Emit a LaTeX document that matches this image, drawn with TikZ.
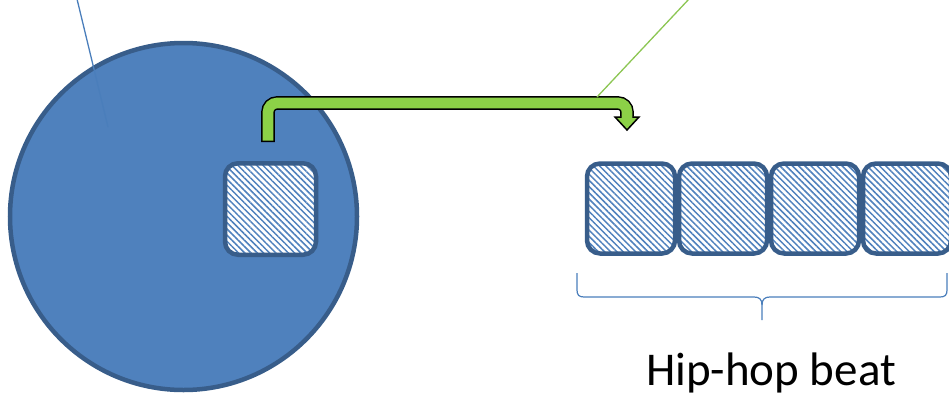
\documentclass[tikz,border=0pt]{standalone}
\usepackage{fontspec}
\setmainfont{Carlito}
\usetikzlibrary{patterns.meta}
\definecolor{fillblue}{HTML}{4F81BD}
\definecolor{edgeblue}{HTML}{385D8A}
\definecolor{lineblue}{HTML}{4A7EBB}
\definecolor{arrowgreen}{HTML}{8CD147}
\definecolor{linegreen}{HTML}{8CC653}
\tikzset{
  disc/.style={circle, draw=edgeblue, fill=fillblue, line width=4.5pt, inner sep=0pt, minimum size=347pt},
  hatchbox/.style={rectangle, draw=edgeblue, line width=4.5pt, rounded corners=13pt, inner sep=0pt,
    minimum width=88pt, minimum height=90pt, preaction={fill=white},
    pattern={Lines[angle=-45,distance=4.4pt,line width=1.5pt]}, pattern color=fillblue},
  thinblue/.style={draw=lineblue, line width=1.3pt},
  bracestyle/.style={draw=lineblue, line width=1.2pt},
  label/.style={font=\fontsize{47}{56}\selectfont, inner sep=0pt}
}
\begin{document}
\begin{tikzpicture}[x=1pt,y=-1pt]
\useasboundingbox (0,0) rectangle (949,394);
% big disc
\node[disc] (disc) at (183.5,216.5) {};
% thin blue line from top
\coordinate (bt) at (77,-1);
\coordinate (bb) at (108,127);
\draw[thinblue] (bt) -- (bb);
% small hatched square in disc
\node[hatchbox, minimum width=91pt, minimum height=91.5pt] (s0) at (270.5,209) {};
% green bent arrow
\draw[black, line width=13.6pt, rounded corners=9pt] (268,142.2) -- (268,103) -- (627,103) -- (627,118);
\draw[arrowgreen, line width=10.6pt, rounded corners=9pt] (268,140.7) -- (268,103) -- (627,103) -- (627,118.5);
\fill[arrowgreen] (621,116.5) -- (615,117) -- (627,130) -- (639,117) -- (633,116.5) -- cycle;
\draw[black, line width=1.5pt, line join=miter] (621.7,117) -- (615,117) -- (627,130) -- (639,117) -- (632.3,117);
% green thin line
\coordinate (gt) at (689,-1);
\coordinate (gb) at (597,97);
\draw[linegreen, line width=1.3pt] (gt) -- (gb);
% row of hatched squares
\node[hatchbox] (r1) at (631,208.5) {};
\node[hatchbox] (r2) at (723,208.5) {};
\node[hatchbox] (r3) at (815,208.5) {};
\node[hatchbox] (r4) at (907,208.5) {};
% brace
\draw[bracestyle] (577,273) -- (577,290) .. controls (577,295) and (579,297) .. (584,297)
  -- (754,297) .. controls (759,297) and (762,299) .. (762,305) -- (762,320);
\draw[bracestyle] (947,273) -- (947,290) .. controls (947,295) and (945,297) .. (940,297)
  -- (770,297) .. controls (765,297) and (762,299) .. (762,305);
% label
\node[label, anchor=base] (txt) at (771,385) {Hip-hop beat};
\end{tikzpicture}
\end{document}
